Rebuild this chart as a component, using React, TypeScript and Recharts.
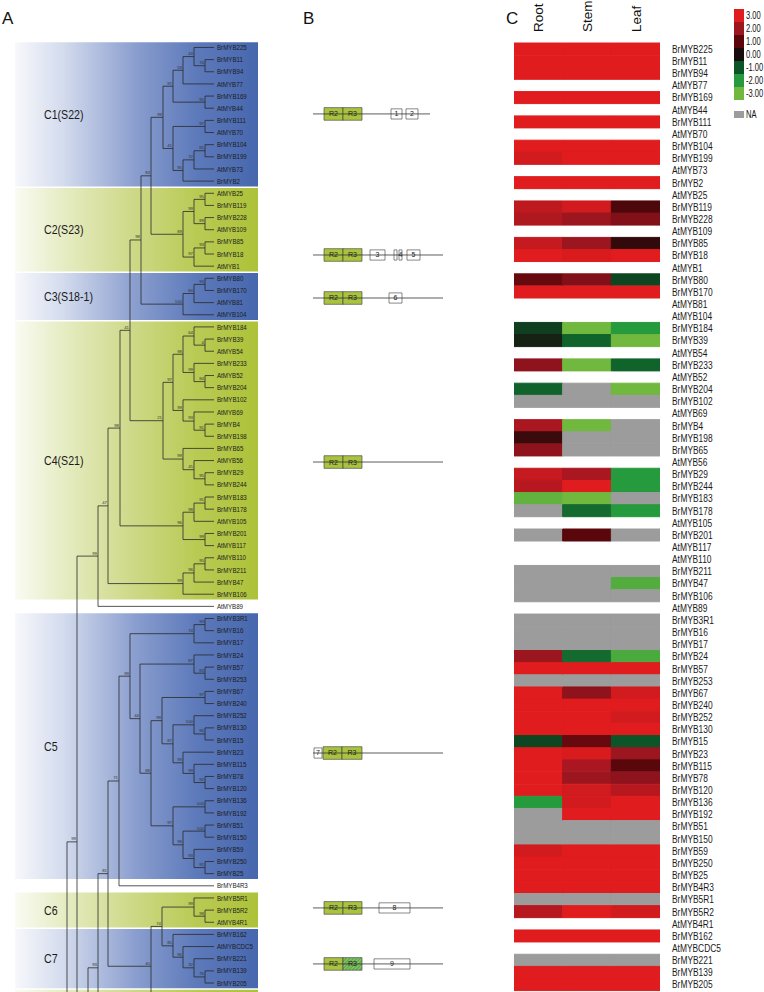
import React from 'react';
import {
  ScatterChart, Scatter, XAxis, YAxis, ReferenceLine, ReferenceArea,
  BarChart, Bar, Cell, Legend,
} from 'recharts';

const FONT = '"Liberation Sans", Arial, sans-serif';

// ---------- leaves (tree order = heatmap order) ----------
const leaves = [
  'BrMYB225', 'BrMYB11', 'BrMYB94', 'AtMYB77', 'BrMYB169', 'AtMYB44', 'BrMYB111', 'AtMYB70',
  'BrMYB104', 'BrMYB199', 'AtMYB73', 'BrMYB2', 'AtMYB25', 'BrMYB119', 'BrMYB228', 'AtMYB109',
  'BrMYB85', 'BrMYB18', 'AtMYB1', 'BrMYB80', 'BrMYB170', 'AtMYB81', 'AtMYB104', 'BrMYB184',
  'BrMYB39', 'AtMYB54', 'BrMYB233', 'AtMYB52', 'BrMYB204', 'BrMYB102', 'AtMYB69', 'BrMYB4',
  'BrMYB198', 'BrMYB65', 'AtMYB56', 'BrMYB29', 'BrMYB244', 'BrMYB183', 'BrMYB178', 'AtMYB105',
  'BrMYB201', 'AtMYB117', 'AtMYB110', 'BrMYB211', 'BrMYB47', 'BrMYB106', 'AtMYB89', 'BrMYB3R1',
  'BrMYB16', 'BrMYB17', 'BrMYB24', 'BrMYB57', 'BrMYB253', 'BrMYB67', 'BrMYB240', 'BrMYB252',
  'BrMYB130', 'BrMYB15', 'BrMYB23', 'BrMYB115', 'BrMYB78', 'BrMYB120', 'BrMYB136', 'BrMYB192',
  'BrMYB51', 'BrMYB150', 'BrMYB59', 'BrMYB250', 'BrMYB25', 'BrMYB4R3', 'BrMYB5R1', 'BrMYB5R2',
  'AtMYB4R1', 'BrMYB162', 'AtMYBCDC5', 'BrMYB221', 'BrMYB139', 'BrMYB205',
];

// ---------- clades ----------
const cladeNames = ['C1(S22)', 'C2(S23)', 'C3(S18-1)', 'C4(S21)', 'C5', 'C6', 'C7', ''];
const cladeFirst = [0, 12, 19, 23, 47, 70, 73, 78];
const cladeLast = [11, 18, 22, 45, 68, 72, 77, 84];
const cladeTone = ['blue', 'green', 'blue', 'green', 'blue', 'green', 'blue', 'green'];

// ---------- tree: internal nodes [id, child A, child B, depth, bootstrap] ----------
const tipDepth = 214;
const treeNodes: [string, string, string, number, string][] = [
  ['n74a', 'BrMYB11', 'BrMYB94', 205, '74'],
  ['n43', 'BrMYB225', 'n74a', 194, '43'],
  ['n59', 'n43', 'AtMYB77', 183, '59'],
  ['n95a', 'BrMYB169', 'AtMYB44', 205, '95'],
  ['n97a', 'n59', 'n95a', 173, '97'],
  ['n97b', 'BrMYB111', 'AtMYB70', 205, '97'],
  ['n81a', 'BrMYB104', 'BrMYB199', 205, '81'],
  ['n72', 'n81a', 'AtMYB73', 194, '72'],
  ['n95b', 'n72', 'BrMYB2', 183, '95'],
  ['n41a', 'n97b', 'n95b', 173, '41'],
  ['n99a', 'n97a', 'n41a', 163, '99'],
  ['n95c', 'AtMYB25', 'BrMYB119', 205, '95'],
  ['n89a', 'BrMYB228', 'AtMYB109', 205, '89'],
  ['n99b', 'n95c', 'n89a', 194, '99'],
  ['n93a', 'BrMYB85', 'BrMYB18', 205, '93'],
  ['n97c', 'n93a', 'AtMYB1', 194, '97'],
  ['n89b', 'n99b', 'n97c', 183, '89'],
  ['n83', 'n99a', 'n89b', 151, '83'],
  ['n93b', 'BrMYB80', 'BrMYB170', 205, '93'],
  ['n84', 'n93b', 'AtMYB81', 194, '84'],
  ['n100a', 'n84', 'AtMYB104', 183, '100'],
  ['n98a', 'n83', 'n100a', 141, '98'],
  ['n4', 'BrMYB39', 'AtMYB54', 205, '4'],
  ['n64', 'BrMYB184', 'n4', 194, '64'],
  ['n84b', 'AtMYB52', 'BrMYB204', 205, '84'],
  ['n99c', 'BrMYB233', 'n84b', 194, '99'],
  ['n98b', 'n64', 'n99c', 183, '98'],
  ['n91', 'BrMYB4', 'BrMYB198', 205, '91'],
  ['n93c', 'AtMYB69', 'n91', 194, '93'],
  ['n99d', 'BrMYB102', 'n93c', 183, '99'],
  ['n97d', 'n98b', 'n99d', 173, '97'],
  ['n95d', 'BrMYB29', 'BrMYB244', 205, '95'],
  ['n45', 'AtMYB56', 'n95d', 194, '45'],
  ['n99e', 'BrMYB65', 'n45', 183, '99'],
  ['n21', 'n97d', 'n99e', 163, '21'],
  ['n41b', 'n98a', 'n21', 130, '41'],
  ['n91b', 'BrMYB183', 'BrMYB178', 205, '91'],
  ['n98c', 'n91b', 'AtMYB105', 194, '98'],
  ['n99f', 'BrMYB201', 'AtMYB117', 205, '99'],
  ['n96a', 'n98c', 'n99f', 183, '96'],
  ['n98d', 'n41b', 'n96a', 120, '98'],
  ['n95e', 'AtMYB110', 'BrMYB211', 205, '95'],
  ['n96b', 'n95e', 'BrMYB47', 194, '96'],
  ['n99g', 'n96b', 'BrMYB106', 183, '99'],
  ['n47', 'n98d', 'n99g', 108, '47'],
  ['n99h', 'n47', 'AtMYB89', 98, '99'],
  ['n99i', 'BrMYB3R1', 'BrMYB16', 205, '99'],
  ['n74b', 'n99i', 'BrMYB17', 194, '74'],
  ['n83b', 'BrMYB57', 'BrMYB253', 205, '83'],
  ['n87a', 'BrMYB24', 'n83b', 194, '87'],
  ['n97e', 'BrMYB67', 'BrMYB240', 205, '97'],
  ['n96c', 'BrMYB130', 'BrMYB15', 205, '96'],
  ['n100b', 'BrMYB252', 'n96c', 194, '100'],
  ['n92a', 'BrMYB78', 'BrMYB120', 205, '92'],
  ['n99j', 'BrMYB115', 'n92a', 194, '99'],
  ['n99k', 'BrMYB23', 'n99j', 183, '99'],
  ['n87b', 'n100b', 'n99k', 173, '87'],
  ['n99l', 'n97e', 'n87b', 162, '99'],
  ['n100c', 'BrMYB136', 'BrMYB192', 205, '100'],
  ['n100d', 'BrMYB51', 'BrMYB150', 205, '100'],
  ['n92b', 'BrMYB250', 'BrMYB25', 205, '92'],
  ['n93d', 'BrMYB59', 'n92b', 194, '93'],
  ['n98e', 'n100d', 'n93d', 183, '98'],
  ['n97f', 'n100c', 'n98e', 173, '97'],
  ['n88', 'n99l', 'n97f', 151, '88'],
  ['n44', 'n87a', 'n88', 140, '44'],
  ['n99m', 'n74b', 'n44', 130, '99'],
  ['n71', 'n99m', 'BrMYB4R3', 119, '71'],
  ['n98f', 'BrMYB5R2', 'AtMYB4R1', 205, '98'],
  ['n99n', 'BrMYB5R1', 'n98f', 194, '99'],
  ['n76', 'BrMYB139', 'BrMYB205', 205, '76'],
  ['n32', 'BrMYB221', 'n76', 194, '32'],
  ['n96d', 'AtMYBCDC5', 'n32', 183, '96'],
  ['n85', 'BrMYB162', 'n96d', 173, '85'],
  ['n74c', 'n99n', 'n85', 162, '74'],
  ['n40', 'n74c', 'below1', 151, '40'],
  ['n81b', 'n71', 'n40', 108, '81'],
  ['n93e', 'n81b', 'below2', 98, '93'],
  ['n99o', 'n99h', 'below3', 77, '99'],
  ['nA', 'n93e', 'below4', 88, ''],
  ['nB', 'n99o', 'below5', 67, ''],
];
// subtrees continuing below the cropped bottom edge: [id, row position]
const belowPage: [string, number][] = [
  ['below1', 78.9], ['below2', 83.5], ['below3', 88.9], ['below4', 92], ['below5', 100],
];

// ---------- expression (log2 scale), null = no data row (At gene), NA = not available ----------
const NA = 'NA';
type V = number | null | 'NA';
const _ = null;
const rootExpr: V[] = [
  3, 3, 3, _, 3, _, 3, _, 3, 2.8, _, 3, _, 2.5, 2.3, _, 2.6, 3, _, 1.2, 3, _, _, -0.7,
  -0.3, _, 1.8, _, -1.2, NA, _, 2.2, 0.5, 1.8, _, 2.6, 2.4, -2.8, NA, _, NA, _, _, NA, NA, NA, _, NA,
  NA, NA, 2.0, 3, NA, 3, 3, 3, 3, -0.8, 3, 3, 3, 3, -2, NA, NA, NA, 2.8, 3, 3, 3, NA, 2.4,
  _, 3, _, NA, 3, 3,
];
const stemExpr: V[] = [
  3, 3, 3, _, 3, _, 3, _, 3, 3, _, 3, _, 2.8, 2.0, _, 2.0, 2.9, _, 1.6, 3, _, _, -3,
  -1.2, _, -3, _, NA, NA, _, -3, NA, NA, _, 2.2, 3, -3, -1.3, _, 1.0, _, _, NA, NA, NA, _, NA,
  NA, NA, -1.3, 3, NA, 1.8, 3, 3, 3, 1.2, 2.9, 2.2, 2.0, 2.8, 2.8, 3, NA, NA, 3, 3, 3, 3, NA, 3,
  _, 3, _, NA, 3, 3,
];
const leafExpr: V[] = [
  3, 3, 3, _, 3, _, 3, _, 3, 3, _, 3, _, 0.8, 1.6, _, 0.4, 3, _, -0.8, 3, _, _, -2,
  -3, _, -1.2, _, -3, NA, _, NA, NA, NA, _, -2, -2, NA, -2, _, NA, _, _, NA, -2.6, NA, _, NA,
  NA, NA, -2.5, 3, NA, 2.8, 3, 2.8, 3, -1.0, 2.0, 1.0, 1.8, 2.4, 3, 3, NA, NA, 3, 3, 3, 3, NA, 2.8,
  _, 3, _, NA, 3, 3,
];
const tissues = ['Root', 'Stem', 'Leaf'];

// ---------- colour key ----------
const keyValues = [3, 2, 1, 0, -1, -2, -3];
const keyLabels = ['3.00', '2.00', '1.00', '0.00', '-1.00', '-2.00', '-3.00'];
const keyColors = ['#e01c1e', '#9c1620', '#5a070c', '#190c0c', '#0c5528', '#269b3e', '#70b83e'];
const NA_COLOR = '#9c9c9c';

// ---------- gene structures (panel B), x in aa-scale units, row = tree row ----------
type Part = [string, number, number];
const structRows = [5.47, 17.08, 20.62, 34.12, 58.07, 70.82, 75.43];
const structEnds = [130, 143, 143, 143, 143, 143, 143];
const structStart = 13;
const structParts: Part[][] = [
  [['R2', 24, 43], ['R3', 43, 62], ['1', 91, 102], ['2', 106, 118]],
  [['R2', 24, 43], ['R3', 43, 62], ['3', 70, 85], ['', 94, 97], ['4', 99, 102], ['5', 107, 120]],
  [['R2', 24, 43], ['R3', 43, 62], ['6', 89, 102]],
  [['R2', 24, 43], ['R3', 43, 62]],
  [['7', 14, 22], ['R2', 23, 42], ['R3', 42, 62]],
  [['R2', 24, 43], ['R3', 43, 62], ['8', 79, 110]],
  [['R2', 24, 43], ['R3*', 43, 62], ['9', 74, 110]],
];

// ---------- derived ----------
function hexToRgb(h: string) {
  const n = parseInt(h.slice(1), 16);
  return [(n >> 16) & 255, (n >> 8) & 255, n & 255];
}
function colorOf(v: V): string {
  if (v === 'NA') return NA_COLOR;
  if (v === null) return 'none';
  const c = Math.max(-3, Math.min(3, v));
  const i = Math.min(5, Math.floor(3 - c));
  const t = (3 - c) - i;
  const a = hexToRgb(keyColors[i]);
  const b = hexToRgb(keyColors[i + 1]);
  const m = a.map((x, k) => Math.round(x + (b[k] - x) * t));
  return `rgb(${m[0]},${m[1]},${m[2]})`;
}

const yOf: Record<string, number> = {};
const depthOf: Record<string, number> = {};
leaves.forEach((n, i) => { yOf[n] = i; depthOf[n] = tipDepth; });
belowPage.forEach(([id, y]) => { yOf[id] = y; depthOf[id] = tipDepth; });
treeNodes.forEach(([id, a, b, d]) => { yOf[id] = (yOf[a] + yOf[b]) / 2; depthOf[id] = d; });

const segments: { x: number; y: number }[][] = [];
treeNodes.forEach(([id, a, b, d]) => {
  segments.push([{ x: d, y: yOf[a] }, { x: d, y: yOf[b] }]);
  segments.push([{ x: d, y: yOf[a] }, { x: depthOf[a], y: yOf[a] }]);
  segments.push([{ x: d, y: yOf[b] }, { x: depthOf[b], y: yOf[b] }]);
});
const leafPoints = leaves.map((name, i) => ({ x: tipDepth, y: i, name }));
const bootPoints = treeNodes.filter((n) => n[4] !== '').map(([id, , , d, boot]) => ({ x: d, y: yOf[id], boot }));

const heatRows = leaves.map((gene, i) => ({
  gene,
  root: rootExpr[i] === null ? 0 : 1,
  stem: stemExpr[i] === null ? 0 : 1,
  leaf: leafExpr[i] === null ? 0 : 1,
}));
const structPoints = structRows.map((row, i) => ({ x: structStart, y: row, end: structEnds[i] }));

// layout constants
const ROW_TOP_TREE = 41.4;
const Y_MAX = 77.74;

const LeafLabel = (p: any) => (
  <text transform={`translate(${p.cx + 3},${p.cy + 2.6}) scale(0.8,1)`} fontSize={7.7} fill="#1c1c1c">
    {p.payload.name}
  </text>
);
const BootLabel = (p: any) => (
  <text x={p.cx - 1} y={p.cy - 1.6} textAnchor="end" fontSize={4.3} fill="#333">
    {p.payload.boot}
  </text>
);
const Nothing = () => <g />;

const CladeLabel = (p: any) => {
  const vb = p.viewBox || { x: 0, y: 0, width: 0, height: 0 };
  return (
    <text
      transform={`translate(${vb.x + 29},${vb.y + vb.height / 2}) scale(0.85,1)`}
      dy="0.36em"
      fontSize={12.5}
      fill="#1a1a1a"
    >
      {p.name}
    </text>
  );
};

const TissueTick = (p: any) => (
  <text
    transform={`translate(${p.x + 5},${p.y}) rotate(-90)`}
    textAnchor="start"
    fontSize={13.5}
    fill="#111"
  >
    {tissues[Math.floor(p.payload.value)]}
  </text>
);

const GeneTick = (p: any) => (
  <text transform={`translate(${p.x},${p.y}) scale(0.8,1)`} dy="0.36em" fontSize={10.5} fill="#1a1a1a">
    {p.payload.value}
  </text>
);

const ColorKey = () => (
  <div style={{ position: 'relative', width: 32, height: 112 }}>
    {keyValues.map((v, i) => (
      <React.Fragment key={v}>
        <div style={{ position: 'absolute', left: 0, top: i * 13, width: 9.5, height: 13, background: colorOf(v) }} />
        <div
          style={{
            position: 'absolute', left: 11.5, top: i * 13, height: 13, lineHeight: '13px', fontSize: 10.5,
            color: '#111', transform: 'scaleX(0.72)', transformOrigin: 'left center', whiteSpace: 'nowrap',
          }}
        >
          {keyLabels[i]}
        </div>
      </React.Fragment>
    ))}
    <div style={{ position: 'absolute', left: 0, top: 102, width: 9.5, height: 7, background: NA_COLOR }} />
    <div
      style={{
        position: 'absolute', left: 11.5, top: 99, lineHeight: '13px', fontSize: 10.5, color: '#111',
        transform: 'scaleX(0.72)', transformOrigin: 'left center',
      }}
    >
      NA
    </div>
  </div>
);

function partFill(label: string) {
  if (label === 'R2' || label === 'R3') return '#a9c23f';
  if (label === 'R3*') return 'url(#hatchR3)';
  return '#ffffff';
}

const cellOf = (v: V, i: number) => {
  const c = colorOf(v);
  return <Cell key={i} fill={c} stroke={c} strokeWidth={1} />;
};

export default function App() {
  return (
    <div style={{ position: 'absolute', left: 0, top: 0, width: 764, height: 992, background: '#fff', fontFamily: FONT, overflow: 'hidden' }}>
      {['A', 'B', 'C'].map((t, i) => (
        <div key={t} style={{ position: 'absolute', left: [2, 303, 506][i], top: 10, fontSize: 17, lineHeight: '17px', color: '#111' }}>{t}</div>
      ))}

      {/* Panel A: tree */}
      <div style={{ position: 'absolute', left: 0, top: 0 }}>
        <ScatterChart width={300} height={992} margin={{ top: ROW_TOP_TREE, right: 0, bottom: 0, left: 0 }}>
          <defs>
            <linearGradient id="gBlue" x1="0" y1="0" x2="1" y2="0">
              <stop offset="0" stopColor="#f7f8fb" />
              <stop offset="0.2" stopColor="#d3dbed" />
              <stop offset="0.5" stopColor="#899dce" />
              <stop offset="0.75" stopColor="#5c79ba" />
              <stop offset="1" stopColor="#4767ae" />
            </linearGradient>
            <linearGradient id="gGreen" x1="0" y1="0" x2="1" y2="0">
              <stop offset="0" stopColor="#fafbf3" />
              <stop offset="0.2" stopColor="#e6ecc3" />
              <stop offset="0.5" stopColor="#ccd884" />
              <stop offset="0.75" stopColor="#b9ca53" />
              <stop offset="1" stopColor="#adc239" />
            </linearGradient>
          </defs>
          <XAxis type="number" dataKey="x" domain={[0, 300]} hide allowDataOverflow />
          <YAxis type="number" dataKey="y" domain={[-0.5, Y_MAX]} reversed hide allowDataOverflow />
          {cladeNames.map((name, i) => (
            <ReferenceArea
              key={'c' + i}
              x1={15}
              x2={258}
              y1={cladeFirst[i] - 0.44}
              y2={cladeLast[i] + 0.44}
              fill={cladeTone[i] === 'blue' ? 'url(#gBlue)' : 'url(#gGreen)'}
              fillOpacity={1}
              stroke="none"
              ifOverflow="hidden"
              label={<CladeLabel name={name} />}
            />
          ))}
          {segments.map((s, i) => (
            <ReferenceLine key={'s' + i} segment={s} stroke="#2a2a2a" strokeWidth={0.8} ifOverflow="hidden" />
          ))}
          <Scatter data={leafPoints} shape={<LeafLabel />} isAnimationActive={false} />
          <Scatter data={bootPoints} shape={<BootLabel />} isAnimationActive={false} />
        </ScatterChart>
      </div>

      {/* Panel B: gene structures */}
      <div style={{ position: 'absolute', left: 300, top: 0 }}>
        <ScatterChart width={160} height={992} margin={{ top: ROW_TOP_TREE, right: 0, bottom: 0, left: 0 }}>
          <defs>
            <pattern id="hatchR3" patternUnits="userSpaceOnUse" width="2.5" height="2.5" patternTransform="rotate(45)">
              <rect width="2.5" height="2.5" fill="#8fc03e" />
              <line x1="0" y1="0" x2="0" y2="2.5" stroke="#2c9c9c" strokeWidth="1.4" />
            </pattern>
          </defs>
          <XAxis type="number" dataKey="x" domain={[0, 160]} hide allowDataOverflow />
          <YAxis type="number" dataKey="y" domain={[-0.5, Y_MAX]} reversed hide allowDataOverflow />
          {structRows.map((row, i) => (
            <ReferenceLine
              key={'b' + i}
              segment={[{ x: structStart, y: row }, { x: structEnds[i], y: row }]}
              stroke="#333"
              strokeWidth={0.8}
            />
          ))}
          {structParts.map((parts, i) =>
            parts.map(([label, a, b], j) => {
              const domain = label.startsWith('R');
              const h = domain ? 0.52 : 0.42;
              return (
                <ReferenceArea
                  key={`p${i}-${j}`}
                  x1={a}
                  x2={b}
                  y1={structRows[i] - h}
                  y2={structRows[i] + h}
                  fill={partFill(label)}
                  fillOpacity={1}
                  stroke="#3a3a3a"
                  strokeWidth={0.6}
                  label={{ value: label.replace('*', ''), position: 'center', fontSize: 7, fill: '#222' }}
                />
              );
            })
          )}
          <Scatter data={structPoints} shape={<Nothing />} isAnimationActive={false} />
        </ScatterChart>
      </div>

      {/* Panel C: heatmap */}
      <div style={{ position: 'absolute', left: 500, top: 0 }}>
        <BarChart
          width={264}
          height={992}
          data={heatRows}
          layout="vertical"
          barCategoryGap={0}
          margin={{ top: 13, right: 14, bottom: 1.3, left: 14 }}
        >
          <XAxis
            type="number"
            orientation="top"
            domain={[0, 3]}
            ticks={[0.5, 1.5, 2.5]}
            allowDataOverflow
            height={30}
            axisLine={false}
            tickLine={false}
            tickSize={0}
            tickMargin={11}
            tick={<TissueTick />}
          />
          <YAxis
            type="category"
            dataKey="gene"
            orientation="right"
            width={90}
            interval={0}
            axisLine={false}
            tickLine={false}
            tickSize={0}
            tickMargin={12}
            tick={<GeneTick />}
          />
          <Bar dataKey="root" stackId="t" isAnimationActive={false}>
            {heatRows.map((r, i) => cellOf(rootExpr[i], i))}
          </Bar>
          <Bar dataKey="stem" stackId="t" isAnimationActive={false}>
            {heatRows.map((r, i) => cellOf(stemExpr[i], i))}
          </Bar>
          <Bar dataKey="leaf" stackId="t" isAnimationActive={false}>
            {heatRows.map((r, i) => cellOf(leafExpr[i], i))}
          </Bar>
          <Legend
            layout="vertical"
            align="center"
            verticalAlign="middle"
            wrapperStyle={{ position: 'absolute', left: 234, top: 9, width: 32, height: 112 }}
            content={<ColorKey />}
          />
        </BarChart>
      </div>
    </div>
  );
}
